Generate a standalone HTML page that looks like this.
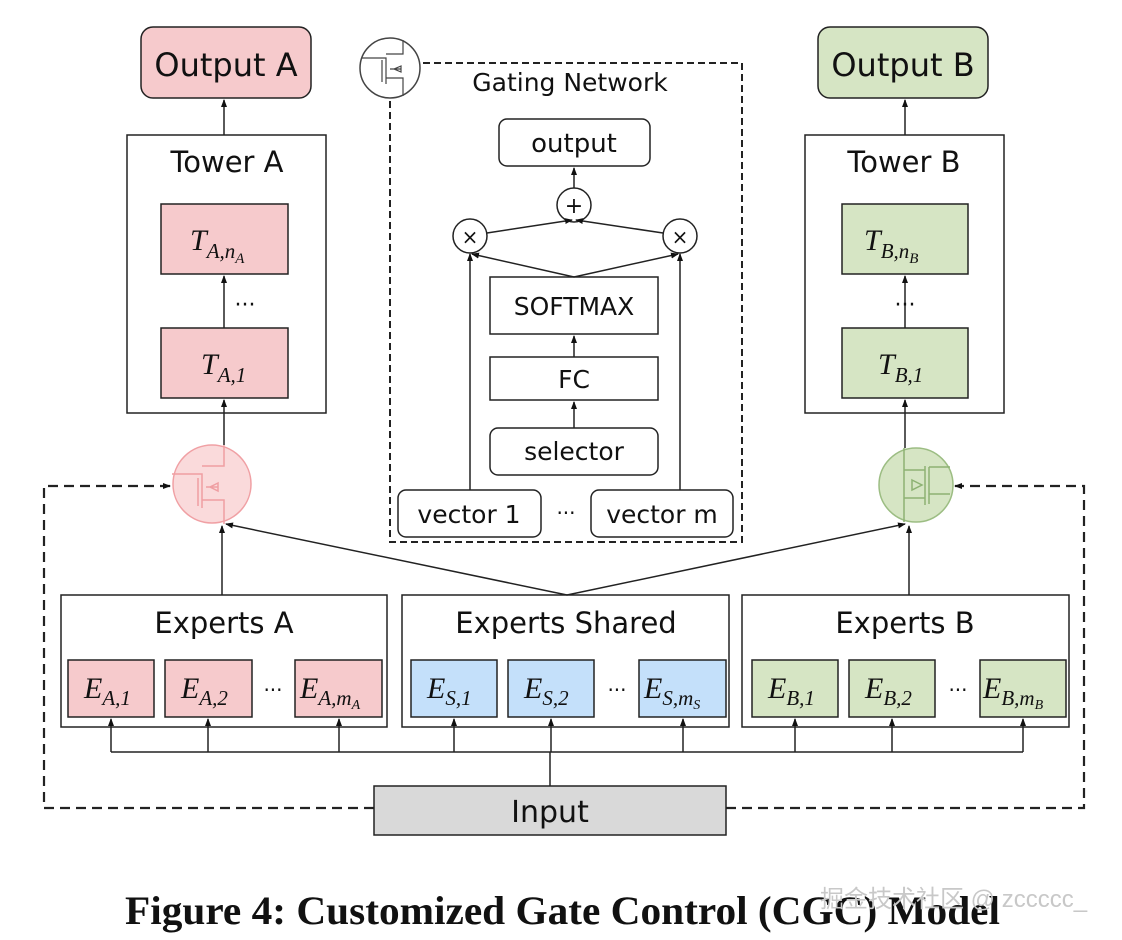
<!DOCTYPE html>
<html><head><meta charset="utf-8"><style>
body{margin:0;background:#fff;}
svg{display:block;}
text{font-family:"DejaVu Sans","Liberation Sans",sans-serif;fill:#111;}
.m{font-family:"Liberation Serif",serif;font-style:italic;}
</style></head><body>
<svg width="1122" height="940" viewBox="0 0 1122 940" xmlns="http://www.w3.org/2000/svg">
<defs>
<marker id="a" markerWidth="8" markerHeight="8" refX="7" refY="4" orient="auto" markerUnits="userSpaceOnUse"><path d="M0,1 L8,4 L0,7 Z" fill="#111"/></marker>
</defs>
<g stroke="#222" stroke-width="1.5" fill="none">
<rect x="141" y="27" width="170" height="71" rx="12" fill="#f6cacc"/>
<rect x="127" y="135" width="199" height="278" fill="#fff"/>
<rect x="161" y="204" width="127" height="70" fill="#f6cacc"/>
<rect x="161" y="328" width="127" height="70" fill="#f6cacc"/>
<line x1="224" y1="135" x2="224" y2="100" marker-end="url(#a)"/>
<line x1="224" y1="328" x2="224" y2="276" marker-end="url(#a)"/>
<line x1="224" y1="445" x2="224" y2="400" marker-end="url(#a)"/>
<rect x="818" y="27" width="170" height="71" rx="12" fill="#d6e5c4"/>
<rect x="805" y="135" width="199" height="278" fill="#fff"/>
<rect x="842" y="204" width="126" height="70" fill="#d6e5c4"/>
<rect x="842" y="328" width="126" height="70" fill="#d6e5c4"/>
<line x1="905" y1="135" x2="905" y2="100" marker-end="url(#a)"/>
<line x1="905" y1="328" x2="905" y2="276" marker-end="url(#a)"/>
<line x1="905" y1="448" x2="905" y2="400" marker-end="url(#a)"/>
<rect x="390" y="63" width="352" height="479" stroke-dasharray="7,4" stroke-width="2"/>
<rect x="499" y="119" width="151" height="47" rx="8" fill="#fff"/>
<circle cx="574" cy="205" r="17" fill="#fff"/>
<circle cx="470" cy="236" r="17" fill="#fff"/>
<circle cx="680" cy="236" r="17" fill="#fff"/>
<rect x="490" y="277" width="168" height="57" fill="#fff"/>
<rect x="490" y="357" width="168" height="43" fill="#fff"/>
<rect x="490" y="428" width="168" height="47" rx="8" fill="#fff"/>
<rect x="398" y="490" width="143" height="47" rx="8" fill="#fff"/>
<rect x="591" y="490" width="142" height="47" rx="8" fill="#fff"/>
<line x1="574" y1="188" x2="574" y2="168" marker-end="url(#a)"/>
<line x1="487" y1="233" x2="572" y2="220" marker-end="url(#a)"/>
<line x1="663" y1="233" x2="576" y2="220" marker-end="url(#a)"/>
<line x1="574" y1="277" x2="472" y2="254" marker-end="url(#a)"/>
<line x1="574" y1="277" x2="678" y2="254" marker-end="url(#a)"/>
<line x1="574" y1="357" x2="574" y2="336" marker-end="url(#a)"/>
<line x1="574" y1="428" x2="574" y2="402" marker-end="url(#a)"/>
<line x1="470" y1="490" x2="470" y2="254" marker-end="url(#a)"/>
<line x1="680" y1="490" x2="680" y2="254" marker-end="url(#a)"/>
<rect x="61" y="595" width="326" height="132" fill="#fff"/>
<rect x="402" y="595" width="327" height="132" fill="#fff"/>
<rect x="742" y="595" width="327" height="132" fill="#fff"/>
<g fill="#f6cacc"><rect x="68" y="660" width="86" height="57"/><rect x="165" y="660" width="87" height="57"/><rect x="295" y="660" width="87" height="57"/></g>
<g fill="#c4e0fa"><rect x="411" y="660" width="86" height="57"/><rect x="508" y="660" width="86" height="57"/><rect x="639" y="660" width="87" height="57"/></g>
<g fill="#d6e5c4"><rect x="752" y="660" width="86" height="57"/><rect x="849" y="660" width="86" height="57"/><rect x="980" y="660" width="86" height="57"/></g>
<line x1="222" y1="595" x2="222" y2="526" marker-end="url(#a)"/>
<line x1="909" y1="595" x2="909" y2="526" marker-end="url(#a)"/>
<line x1="567" y1="595" x2="226" y2="524" marker-end="url(#a)"/>
<line x1="567" y1="595" x2="905" y2="524" marker-end="url(#a)"/>
<polyline points="111,752 1023,752"/>
<line x1="550" y1="786" x2="550" y2="752"/>
<g>
<line x1="111" y1="752" x2="111" y2="719" marker-end="url(#a)"/>
<line x1="208" y1="752" x2="208" y2="719" marker-end="url(#a)"/>
<line x1="339" y1="752" x2="339" y2="719" marker-end="url(#a)"/>
<line x1="454" y1="752" x2="454" y2="719" marker-end="url(#a)"/>
<line x1="551" y1="752" x2="551" y2="719" marker-end="url(#a)"/>
<line x1="683" y1="752" x2="683" y2="719" marker-end="url(#a)"/>
<line x1="795" y1="752" x2="795" y2="719" marker-end="url(#a)"/>
<line x1="892" y1="752" x2="892" y2="719" marker-end="url(#a)"/>
<line x1="1023" y1="752" x2="1023" y2="719" marker-end="url(#a)"/>
</g>
<rect x="374" y="786" width="352" height="49" fill="#d9d9d9"/>
<polyline points="374,808 44,808 44,486 170,486" stroke-dasharray="10,6" stroke-width="2.2" marker-end="url(#a)"/>
<polyline points="726,808 1084,808 1084,486 955,486" stroke-dasharray="10,6" stroke-width="2.2" marker-end="url(#a)"/>
</g>
<g fill="none">
<circle cx="212" cy="484" r="39" fill="#fadadb" stroke="#f0a0a4" stroke-width="1.5"/>
<g stroke="#ef9ea2" stroke-width="1.5"><path d="M172,474 H202 V508 M198,478 V506 M202,466 H224 V445 M202,500 H224 V524 M206,487 H218 M218,483 L210,487 L218,491 Z"/></g>
<circle cx="916" cy="485" r="37" fill="#d6e5c4" stroke="#9cbd83" stroke-width="1.5"/>
<g stroke="#8db273" stroke-width="1.5"><path d="M904,448 V522 M904,470 H925 M925,466 V505 M929,467 V504 M929,467 H950 M929,494 H950 M904,498 H925 M912,480 L922,485 L912,490 Z"/></g>
<circle cx="390" cy="68" r="30" fill="#fff" stroke="#444" stroke-width="1.5"/>
<g stroke="#444" stroke-width="1.2"><path d="M362,58 H386 V84 M382,60 V82 M386,54 H403 V40 M386,78 H403 V96 M390,69 H401 M401,66 L394,69 L401,72 Z"/></g>
</g>
<g text-anchor="middle">
<text x="226" y="76" font-size="32">Output A</text>
<text x="903" y="76" font-size="32">Output B</text>
<text x="227" y="172" font-size="29">Tower A</text>
<text x="904" y="172" font-size="29">Tower B</text>
<text x="570" y="91" font-size="25">Gating Network</text>
<text x="574" y="152" font-size="26">output</text>
<text x="574" y="213" font-size="22">+</text>
<text x="470" y="244" font-size="20">×</text>
<text x="680" y="244" font-size="20">×</text>
<text x="574" y="315" font-size="25">SOFTMAX</text>
<text x="574" y="388" font-size="25">FC</text>
<text x="574" y="460" font-size="25">selector</text>
<text x="469" y="523" font-size="25">vector 1</text>
<text x="662" y="523" font-size="25">vector m</text>
<text x="566" y="520" font-size="20">···</text>
<text x="245" y="312" font-size="22">···</text>
<text x="905" y="312" font-size="22">···</text>
<text x="224" y="633" font-size="29">Experts A</text>
<text x="566" y="633" font-size="29">Experts Shared</text>
<text x="905" y="633" font-size="29">Experts B</text>
<text x="550" y="822" font-size="30">Input</text>
<text x="273" y="697" font-size="20">···</text>
<text x="617" y="697" font-size="20">···</text>
<text x="958" y="697" font-size="20">···</text>
</g>
<g class="m" font-size="30">
<text x="190" y="250" class="m">T<tspan font-size="21" dy="8">A,n</tspan><tspan font-size="15" dy="5">A</tspan></text>
<text x="201" y="374" class="m">T<tspan font-size="21" dy="8">A,1</tspan></text>
<text x="864" y="250" class="m">T<tspan font-size="21" dy="8">B,n</tspan><tspan font-size="15" dy="5">B</tspan></text>
<text x="878" y="374" class="m">T<tspan font-size="21" dy="8">B,1</tspan></text>
<text x="84" y="698" class="m">E<tspan font-size="21" dy="7">A,1</tspan></text>
<text x="181" y="698" class="m">E<tspan font-size="21" dy="7">A,2</tspan></text>
<text x="300" y="698" class="m">E<tspan font-size="21" dy="7">A,m</tspan><tspan font-size="14" dy="4">A</tspan></text>
<text x="427" y="698" class="m">E<tspan font-size="21" dy="7">S,1</tspan></text>
<text x="524" y="698" class="m">E<tspan font-size="21" dy="7">S,2</tspan></text>
<text x="644" y="698" class="m">E<tspan font-size="21" dy="7">S,m</tspan><tspan font-size="14" dy="4">S</tspan></text>
<text x="768" y="698" class="m">E<tspan font-size="21" dy="7">B,1</tspan></text>
<text x="865" y="698" class="m">E<tspan font-size="21" dy="7">B,2</tspan></text>
<text x="983" y="698" class="m">E<tspan font-size="21" dy="7">B,m</tspan><tspan font-size="14" dy="4">B</tspan></text>
</g>
<text x="125" y="924" textLength="875" lengthAdjust="spacingAndGlyphs" font-size="40" font-weight="bold" style="font-family:'Liberation Serif',serif">Figure 4: Customized Gate Control (CGC) Model</text>
<text x="820" y="907" font-size="24" style="font-family:'Liberation Sans','Noto Sans CJK SC',sans-serif;fill:#c8c8c8">掘金技术社区 @ zccccc_</text>
</svg>
</body></html>
